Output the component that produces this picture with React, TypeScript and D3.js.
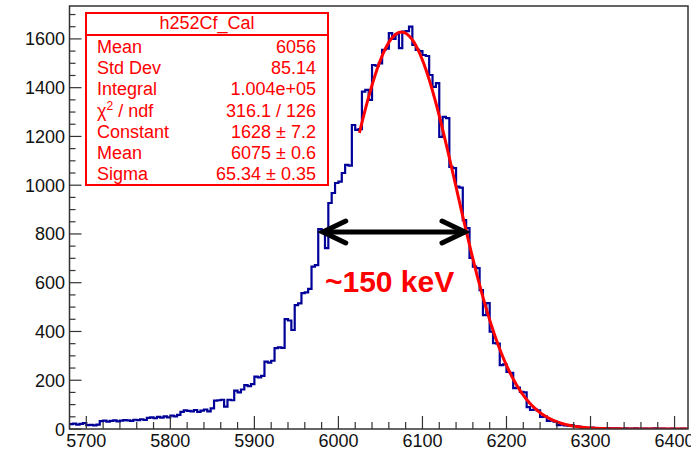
import React, { useEffect, useRef } from "react";
import * as d3 from "d3";

// histogram binning (keV)
const binStart = 5680;
const binWidth = 4;

// counts per bin
const leftTail = [
  20, 22, 18, 21, 24, 16, 17, 15, 18, 32, 34, 30, 33, 35, 31, 34, 36, 35, 33,
  38, 36, 40, 37, 46, 48, 44, 50, 47, 52, 48, 55, 52, 58, 70, 76, 74, 72, 78,
  70, 75, 80, 72, 85,
];
const risingEdge = [
  116, 118, 120, 92, 120, 118, 157, 150, 162, 180, 176, 184, 215, 212, 218, 276,
  272, 280, 332, 335, 333, 451, 445, 406, 508, 515, 557, 560, 575, 666, 672, 820,
  816, 742, 927, 968, 1009, 1015, 1050, 1083, 1080, 1247, 1227, 1230, 1384,
  1391, 1350, 1493, 1490, 1500,
];
const peak = [
  1555, 1560, 1624, 1600, 1620, 1562, 1630, 1632, 1650, 1575, 1555, 1550, 1534,
  1530, 1452, 1403, 1419, 1198, 1280, 1275, 1075, 1070,
];
const fallingEdge = [
  994, 990, 857, 824, 702, 666, 660, 570, 467, 516, 399, 352, 350, 262, 265, 234,
  230, 168, 170, 152, 150, 90, 78, 80, 76, 50, 52, 33, 35, 30, 16, 18, 15, 14,
  16, 12, 10,
];
const rightTail = [
  6, 5, 4, 6, 3, 4, 2, 3, 4, 2, 3, 2, 1, 3, 2, 2, 3, 1, 2, 2, 1, 2, 3, 1, 2, 1,
  1, 2, 1, 1, 2, 1,
];

// gaus fit
const fitConstant = 1628;
const fitMean = 6075;
const fitSigma = 65.34;
const fitRange = [6025, 6416];

// stats box
const statsTitle = "h252Cf_Cal";
const statsLabels = ["Mean", "Std Dev", "Integral", "chi2", "Constant", "Mean", "Sigma"];
const statsValues = ["6056", "85.14", "1.004e+05", "316.1 / 126", "1628 \u00b1 7.2", "6075 \u00b1 0.6", "65.34 \u00b1 0.35"];

// FWHM annotation
const fwhmLow = 5979;
const fwhmHigh = 6153;
const fwhmLevel = 808;
const fwhmLabel = "~150 keV";

const xDomain = [5680, 6416];
const yDomain = [0, 1735];

const FONT = "'Liberation Sans', Arial, Helvetica, sans-serif";

const App = () => {
  const svgRef = useRef(null);

  useEffect(() => {
    const svg = d3.select(svgRef.current);
    svg.selectAll("*").remove();

    const left = 69.5,
      right = 688,
      top = 6,
      bottom = 429;

    const x = d3.scaleLinear().domain(xDomain).range([left, right]);
    const y = d3.scaleLinear().domain(yDomain).range([bottom, top]);

    svg.append("rect").attr("width", 691).attr("height", 449).attr("fill", "#fff");

    // clip for data
    svg
      .append("clipPath")
      .attr("id", "plotClip")
      .append("rect")
      .attr("x", left)
      .attr("y", top)
      .attr("width", right - left)
      .attr("height", bottom - top);

    // histogram
    const counts = [...leftTail, ...risingEdge, ...peak, ...fallingEdge, ...rightTail];
    const steps = counts.map((c, i) => [binStart + i * binWidth, c]);
    steps.push([binStart + counts.length * binWidth, counts[counts.length - 1]]);

    const stepLine = d3
      .line()
      .x((d) => x(d[0]))
      .y((d) => y(d[1]))
      .curve(d3.curveStepAfter);

    svg
      .append("path")
      .attr("clip-path", "url(#plotClip)")
      .attr("d", stepLine(steps))
      .attr("fill", "none")
      .attr("stroke", "#000099")
      .attr("stroke-width", 2.2);

    // fit curve
    const fitPts = d3
      .range(fitRange[0], fitRange[1] + 0.5, 1)
      .map((v) => [v, fitConstant * Math.exp(-0.5 * ((v - fitMean) / fitSigma) ** 2)]);
    svg
      .append("path")
      .attr("clip-path", "url(#plotClip)")
      .attr("d", d3.line().x((d) => x(d[0])).y((d) => y(d[1]))(fitPts))
      .attr("fill", "none")
      .attr("stroke", "#ff0000")
      .attr("stroke-width", 3);

    // frame
    const axisColor = "#333";
    svg
      .append("rect")
      .attr("x", left)
      .attr("y", top)
      .attr("width", right - left)
      .attr("height", bottom - top)
      .attr("fill", "none")
      .attr("stroke", axisColor)
      .attr("stroke-width", 1.5);

    // x ticks
    const xMajor = d3.range(5700, 6401, 100);
    const xMinor = d3.range(5680, 6416, 20).filter((v) => v % 100 !== 0);
    svg
      .append("g")
      .selectAll("line")
      .data(xMinor)
      .enter()
      .append("line")
      .attr("x1", (d) => x(d))
      .attr("x2", (d) => x(d))
      .attr("y1", bottom)
      .attr("y2", bottom - 7)
      .attr("stroke", axisColor)
      .attr("stroke-width", 1.2);
    svg
      .append("g")
      .selectAll("line")
      .data(xMajor)
      .enter()
      .append("line")
      .attr("x1", (d) => x(d))
      .attr("x2", (d) => x(d))
      .attr("y1", bottom)
      .attr("y2", bottom - 13)
      .attr("stroke", axisColor)
      .attr("stroke-width", 1.2);
    svg
      .append("g")
      .selectAll("text")
      .data(xMajor)
      .enter()
      .append("text")
      .attr("x", (d) => x(d))
      .attr("y", 446.5)
      .attr("text-anchor", "middle")
      .attr("font-family", FONT)
      .attr("font-size", 18)
      .attr("fill", "#111")
      .text((d) => d);

    // y ticks
    const yMajor = d3.range(0, 1601, 200);
    const yMinor = d3.range(0, 1735, 50).filter((v) => v % 200 !== 0);
    svg
      .append("g")
      .selectAll("line")
      .data(yMinor)
      .enter()
      .append("line")
      .attr("x1", left)
      .attr("x2", left + 6)
      .attr("y1", (d) => y(d))
      .attr("y2", (d) => y(d))
      .attr("stroke", axisColor)
      .attr("stroke-width", 1.2);
    svg
      .append("g")
      .selectAll("line")
      .data(yMajor)
      .enter()
      .append("line")
      .attr("x1", left)
      .attr("x2", left + 12)
      .attr("y1", (d) => y(d))
      .attr("y2", (d) => y(d))
      .attr("stroke", axisColor)
      .attr("stroke-width", 1.2);
    svg
      .append("g")
      .selectAll("text")
      .data(yMajor)
      .enter()
      .append("text")
      .attr("x", 65)
      .attr("y", (d) => y(d) + 6.5)
      .attr("text-anchor", "end")
      .attr("font-family", FONT)
      .attr("font-size", 18)
      .attr("fill", "#111")
      .text((d) => d);

    // FWHM arrow
    const arrow = svg.append("g").attr("stroke", "#000").attr("fill", "none").attr("stroke-width", 5);
    const ay = y(fwhmLevel);
    const x1 = x(fwhmLow),
      x2 = x(fwhmHigh);
    arrow.append("line").attr("x1", x1 + 2).attr("x2", x2 - 2).attr("y1", ay).attr("y2", ay);
    arrow
      .append("path")
      .attr("stroke-linecap", "round")
      .attr("d", `M${x1 + 25},${ay - 11} L${x1 + 2},${ay} L${x1 + 25},${ay + 11}`);
    arrow
      .append("path")
      .attr("stroke-linecap", "round")
      .attr("d", `M${x2 - 25},${ay - 11} L${x2 - 2},${ay} L${x2 - 25},${ay + 11}`);

    svg
      .append("text")
      .attr("x", x(5984))
      .attr("y", 292)
      .attr("font-family", FONT)
      .attr("font-weight", "bold")
      .attr("font-size", 30)
      .attr("fill", "#ff0000")
      .text(fwhmLabel);

    // stats box
    const bx = 86,
      by = 13,
      bw = 242,
      bh = 172;
    const stats = svg.append("g").attr("font-family", FONT).attr("fill", "#ff0000");
    stats
      .append("rect")
      .attr("x", bx)
      .attr("y", by)
      .attr("width", bw)
      .attr("height", bh)
      .attr("fill", "#fff")
      .attr("stroke", "#ff0000")
      .attr("stroke-width", 2);
    stats
      .append("line")
      .attr("x1", bx)
      .attr("x2", bx + bw)
      .attr("y1", 35)
      .attr("y2", 35)
      .attr("stroke", "#ff0000")
      .attr("stroke-width", 2);
    stats
      .append("text")
      .attr("x", bx + bw / 2)
      .attr("y", 29)
      .attr("text-anchor", "middle")
      .attr("font-size", 18)
      .text(statsTitle);

    statsLabels.forEach((lab, i) => {
      const ty = 53 + i * 21.2;
      const t = stats.append("text").attr("x", 97).attr("y", ty).attr("font-size", 18);
      if (lab === "chi2") {
        t.append("tspan").text("\u03c7");
        t.append("tspan").attr("font-size", 12).attr("dy", -7).text("2");
        t.append("tspan").attr("dy", 7).text(" / ndf");
      } else {
        t.text(lab);
      }
      stats
        .append("text")
        .attr("x", 316)
        .attr("y", ty)
        .attr("text-anchor", "end")
        .attr("font-size", 18)
        .text(statsValues[i]);
    });
  }, []);

  return (
    <div style={{ position: "absolute", left: 0, top: 0, width: 691, height: 449 }}>
      <svg ref={svgRef} width={691} height={449} />
    </div>
  );
};

export default App;
